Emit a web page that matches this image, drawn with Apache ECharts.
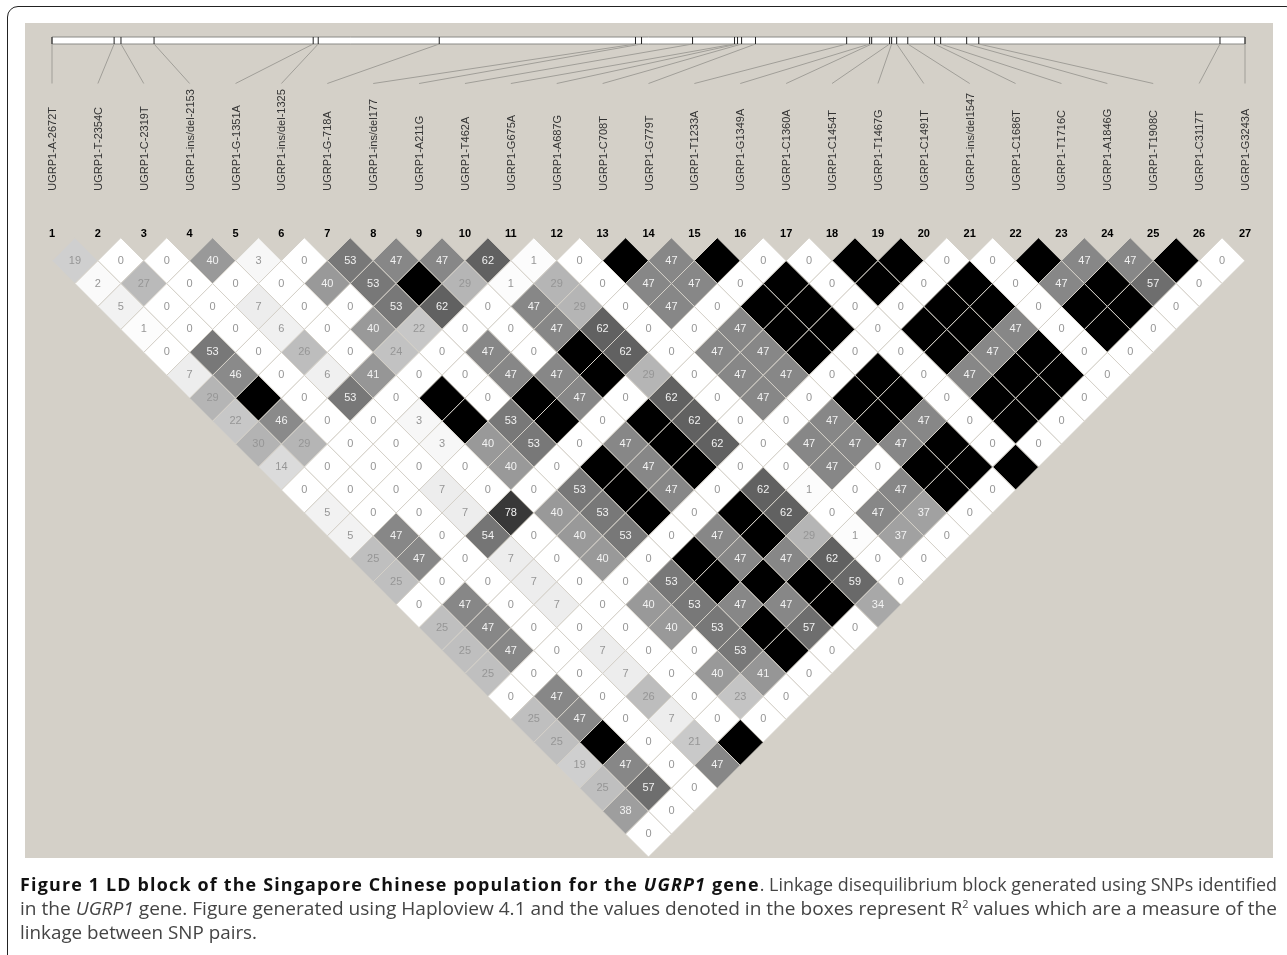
<!DOCTYPE html>
<html><head><meta charset="utf-8">
<style>
html,body{margin:0;padding:0;background:#fff;overflow:hidden;width:1287px;height:955px}
#frame{position:absolute;left:7px;top:6px;width:1290px;height:970px;border:1px solid #222;border-radius:11px;box-sizing:border-box}
#panel{position:absolute;left:25px;top:23px;width:1248px;height:835px;background:#d4d0c8}
#chart{position:absolute;left:0;top:0;width:1287px;height:955px}
#caption{position:absolute;left:20px;top:872px;font:17.5px/24px "Open Sans",sans-serif;color:#444}
#caption div{white-space:nowrap;transform-origin:0 50%;width:max-content;height:24px}
#caption b{color:#111;letter-spacing:1.15px}
#caption sup{font-size:10px;line-height:0}
</style>
</head><body>
<div id="frame"></div>
<div id="panel"></div>
<div id="chart"></div>
<div id="caption">
<div data-w="1257"><b>Figure 1 LD block of the Singapore Chinese population for the <i>UGRP1</i> gene</b>. Linkage disequilibrium block generated using SNPs identified</div>
<div data-w="1257">in the <i>UGRP1</i> gene. Figure generated using Haploview 4.1 and the values denoted in the boxes represent R<sup>2</sup> values which are a measure of the</div>
<div data-w="237">linkage between SNP pairs.</div>
</div>
<script src="https://cdn.jsdelivr.net/npm/echarts@6/dist/echarts.min.js"></script>
<script>
const snpNames = ['UGRP1-A-2672T','UGRP1-T-2354C','UGRP1-C-2319T','UGRP1-ins/del-2153','UGRP1-G-1351A','UGRP1-ins/del-1325','UGRP1-G-718A','UGRP1-ins/del177','UGRP1-A211G','UGRP1-T462A','UGRP1-G675A','UGRP1-A687G','UGRP1-C708T','UGRP1-G779T','UGRP1-T1233A','UGRP1-G1349A','UGRP1-C1360A','UGRP1-C1454T','UGRP1-T1467G','UGRP1-C1491T','UGRP1-ins/del1547','UGRP1-C1686T','UGRP1-T1716C','UGRP1-A1846G','UGRP1-T1908C','UGRP1-C3117T','UGRP1-G3243A'];
const snpNumbers = [1,2,3,4,5,6,7,8,9,10,11,12,13,14,15,16,17,18,19,20,21,22,23,24,25,26,27];
// position of each SNP along the gene track, on a 0..5915 scale
const trackPositions = [0,308,342,506,1295,1320,1920,2893,2923,3176,3384,3399,3419,3488,3940,4054,4064,4153,4163,4188,4243,4376,4406,4535,4595,5791,5915];
const trackLength = 5915;
// R2 (x100) per row of the triangle; row N pairs SNP i with SNP i+N. 100 = black box, no number printed.
const row01 = [19,0,0,40,3,0,53,47,47,62,1,0,100,47,100,0,0,100,100,0,0,100,47,47,100,0];
const row02 = [2,27,0,0,0,40,53,100,29,1,29,0,47,47,0,100,0,100,0,100,0,47,100,57,0];
const row03 = [5,0,0,7,0,0,53,62,0,47,29,0,47,0,100,100,0,0,100,100,0,100,100,0];
const row04 = [1,0,0,6,0,40,22,0,0,47,62,0,0,47,100,100,0,100,100,47,0,100,0];
const row05 = [0,53,0,26,0,24,0,47,0,100,62,0,47,47,100,0,0,100,47,100,0,0];
const row06 = [7,46,0,6,41,0,0,47,47,100,29,0,47,47,0,100,0,47,100,100,0];
const row07 = [29,100,0,53,0,100,0,100,47,0,62,0,47,0,100,100,0,100,100,0];
const row08 = [22,46,0,0,3,100,53,100,0,100,62,0,0,47,100,47,0,100,0];
const row09 = [30,29,0,0,3,40,53,0,47,100,62,0,47,47,47,100,0,0];
const row10 = [14,0,0,0,0,40,0,100,47,100,0,0,47,0,100,100,100];
const row11 = [0,0,0,7,0,0,53,100,47,0,62,1,0,47,100,0];
const row12 = [5,0,0,7,78,40,53,100,0,100,62,0,47,37,0];
const row13 = [5,47,0,54,0,40,53,0,47,100,29,1,37,0];
const row14 = [25,47,0,7,0,40,0,100,47,47,62,0,0];
const row15 = [25,0,0,7,0,0,53,100,100,100,59,0];
const row16 = [0,47,0,7,0,40,53,47,47,100,34];
const row17 = [25,47,0,0,0,40,53,100,57,0];
const row18 = [25,47,0,7,0,0,53,100,0];
const row19 = [25,0,0,7,0,40,41,0];
const row20 = [0,47,0,26,0,23,0];
const row21 = [25,47,0,7,0,0];
const row22 = [25,100,0,21,100];
const row23 = [19,47,0,47];
const row24 = [25,57,0];
const row25 = [38,0];
const row26 = [0];
const ldRows = [row01,row02,row03,row04,row05,row06,row07,row08,row09,row10,row11,row12,row13,row14,row15,row16,row17,row18,row19,row20,row21,row22,row23,row24,row25,row26];

const PANEL_BG = '#d4d0c8';
const GRID_TOP = 237.7, ROW_PX = 22.94;
const pxToRow = px => (px - GRID_TOP) / ROW_PX;
const trackToSnp = p => 1 + p / trackLength * 26;

const cells = [];
ldRows.forEach((row, r) => row.forEach((v, k) => {
  const d = r + 1, i = k + 1;
  cells.push([i + d / 2, d, v]);
}));

const grey = v => { const g = Math.round(255 * (1 - v / 100)); return `rgb(${g},${g},${g})`; };
const textColor = v => v >= 33 ? '#f2f2f2' : '#969696';

const chart = echarts.init(document.getElementById('chart'), null, {renderer:'canvas'});
chart.setOption({
  backgroundColor: 'transparent',
  animation: false,
  grid: [
    {left: 52, width: 1193, top: GRID_TOP, height: ROW_PX * 26, outerBoundsMode:'none'},
    {left: 53, width: 1193, top: GRID_TOP, height: ROW_PX * 26, outerBoundsMode:'none'}
  ],
  xAxis: [
    {type:'value', gridIndex:0, min:1, max:27, interval:1, position:'top', offset:0,
     axisLine:{show:false}, axisTick:{show:false}, splitLine:{show:false},
     axisLabel:{show:true, margin:-2, showMinLabel:true, showMaxLabel:true,
       color:'#000', fontFamily:'Liberation Sans', fontWeight:'bold', fontSize:11,
       formatter: v => String(snpNumbers[v-1])}},
    {type:'value', gridIndex:1, min:1, max:27, interval:1, position:'top', offset:47,
     axisLine:{show:false}, axisTick:{show:false}, splitLine:{show:false},
     axisLabel:{show:true, rotate:90, margin:0, showMinLabel:true, showMaxLabel:true,
       color:'#333', fontFamily:'Liberation Sans', fontSize:11,
       formatter: v => snpNames[v-1]}}
  ],
  yAxis: [
    {type:'value', gridIndex:0, min:0, max:26, inverse:true, show:false},
    {type:'value', gridIndex:1, min:0, max:26, inverse:true, show:false}
  ],
  series: [
    {
      type:'custom', clip:false, silent:true, z:2,
      xAxisIndex:0, yAxisIndex:0,
      data: cells,
      encode:{x:0, y:1},
      renderItem: (params, api) => {
        const x = api.value(0), d = api.value(1), v = api.value(2);
        const pts = [[x,d-1],[x+0.5,d],[x,d+1],[x-0.5,d]].map(p => api.coord(p));
        const c = api.coord([x,d]);
        const children = [{type:'polygon', shape:{points:pts},
          style:{fill:grey(v), stroke:PANEL_BG, lineWidth:1}}];
        if (v < 100) children.push({type:'text', x:c[0], y:c[1], z2:5,
          style:{text:String(v), fill:textColor(v), font:'11px "Liberation Sans"', align:'center', verticalAlign:'middle'}});
        return {type:'group', children};
      }
    },
    {
      type:'custom', clip:false, silent:true, z:3,
      xAxisIndex:0, yAxisIndex:0,
      data: trackPositions.map((p,i) => [p, snpNumbers[i]]),
      encode:{x:1, y:-1},
      renderItem: (params, api) => {
        const s = trackToSnp(api.value(0)), n = api.value(1);
        const top = api.coord([s, pxToRow(37)]), bot = api.coord([s, pxToRow(44)]);
        const end = api.coord([n, pxToRow(83.5)]);
        return {type:'group', children:[
          {type:'line', shape:{x1:bot[0],y1:bot[1],x2:end[0],y2:end[1]}, style:{stroke:'#a09e98', lineWidth:1}},
          {type:'line', z2:4, shape:{x1:top[0],y1:top[1],x2:bot[0],y2:bot[1]}, style:{stroke:'#222', lineWidth:1}}
        ]};
      }
    },
    {
      type:'custom', clip:false, silent:true, z:2,
      xAxisIndex:0, yAxisIndex:0,
      data: [[0, trackLength]],
      encode:{x:-1, y:-1},
      renderItem: (params, api) => {
        const a = api.coord([trackToSnp(api.value(0)), pxToRow(37)]);
        const b = api.coord([trackToSnp(api.value(1)), pxToRow(44)]);
        return {type:'rect', shape:{x:a[0], y:a[1], width:b[0]-a[0], height:b[1]-a[1]},
          style:{fill:'#fff', stroke:'#8a8a86', lineWidth:1}};
      }
    }
  ]
});
document.querySelectorAll('#caption div').forEach(d => {
  const w = d.getBoundingClientRect().width;
  d.style.transform = `scaleX(${(+d.dataset.w) / w})`;
});
</script>
</body></html>
